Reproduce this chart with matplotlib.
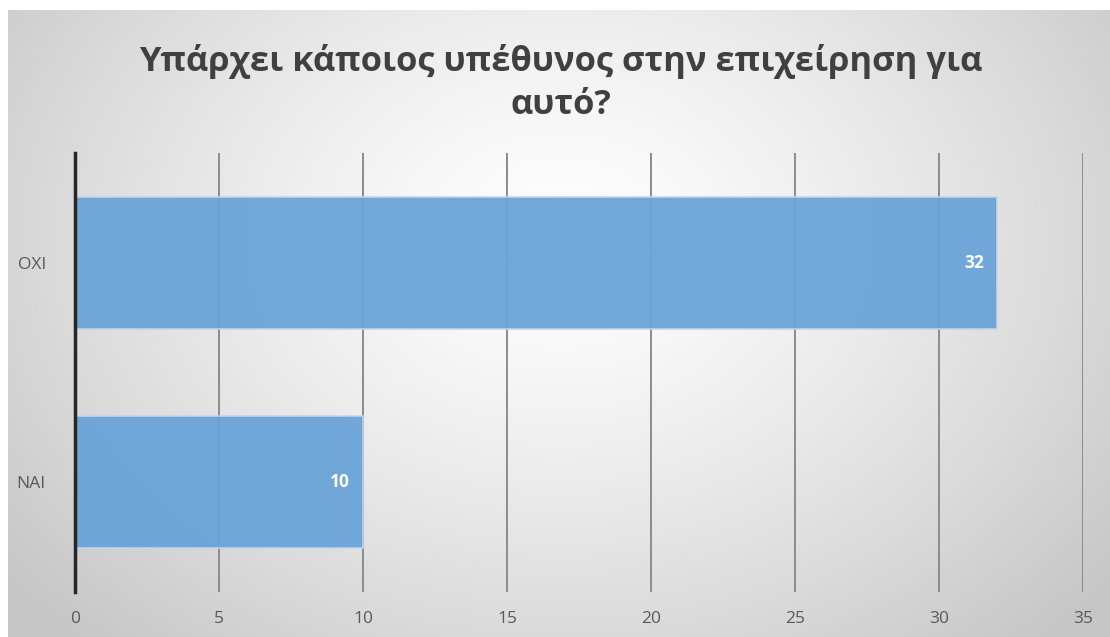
import numpy as np
import matplotlib
matplotlib.use("Agg")
import matplotlib.pyplot as plt

categories = ["NAI", "OXI"]
values = [10, 32]
x_ticks = [0, 5, 10, 15, 20, 25, 30, 35]
title = "Υπάρχει κάποιος υπέθυνος στην επιχείρηση για\nαυτό?"

W, H = 1110, 637
fig = plt.figure(figsize=(W / 100, H / 100), dpi=100)
fig.patch.set_facecolor("white")

# radial gradient background panel
bg = fig.add_axes([8 / W, 0, 1 - 8 / W, 1 - 10 / H], zorder=0)
yy, xx = np.mgrid[0:300, 0:520]
cx, cy = 260, 110
r = np.sqrt(((xx - cx) / 330.0) ** 2 + ((yy - cy) / 260.0) ** 2)
r = np.clip(r, 0, 1)
val = 1.0 - 0.22 * r ** 1.3
img = np.dstack([val, val, val])
bg.imshow(img, aspect="auto", extent=[0, 1, 0, 1], interpolation="bilinear")
bg.set_axis_off()

left, right = 75 / W, 1083 / W
bottom, top = 1 - 592 / H, 1 - 153 / H
ax = fig.add_axes([left, bottom, right - left, top - bottom], zorder=1)
ax.patch.set_alpha(0)

ypos = np.arange(len(categories))
ax.barh(ypos, values, height=0.6, color="#6AA4D8", alpha=0.95,
        edgecolor="#BDD7EE", linewidth=1.2, zorder=3)
for y, v in zip(ypos, values):
    ax.text(v - 0.45, y, str(v), ha="right", va="center", color="white",
            fontsize=12.5, fontweight="bold", family="Open Sans", zorder=4)

ax.set_xlim(0, 35)
ax.set_ylim(-0.5, 1.5)
ax.set_xticks(x_ticks)
ax.set_xticklabels([str(t) for t in x_ticks])
ax.set_yticks(ypos)
ax.set_yticklabels(categories)
ax.grid(axis="x", color="#8C8C8C", linewidth=1.4, zorder=1)
ax.set_axisbelow(True)
for s in ["top", "right", "bottom"]:
    ax.spines[s].set_visible(False)
ax.spines["left"].set_color("#262626")
ax.spines["left"].set_linewidth(2.5)
ax.spines["left"].set_zorder(5)
ax.tick_params(axis="both", length=0, colors="#595959", labelsize=12.5)
ax.tick_params(axis="x", pad=14)
ax.tick_params(axis="y", pad=21)
for lab in ax.get_xticklabels() + ax.get_yticklabels():
    lab.set_family("Open Sans")

fig.text(0.5 + 6 / W, 1 - 83 / H, title, ha="center", va="center",
         fontsize=24.8, fontweight="bold", color="#404040",
         family="Open Sans", linespacing=1.35)

fig.savefig("out.png", dpi=100)
